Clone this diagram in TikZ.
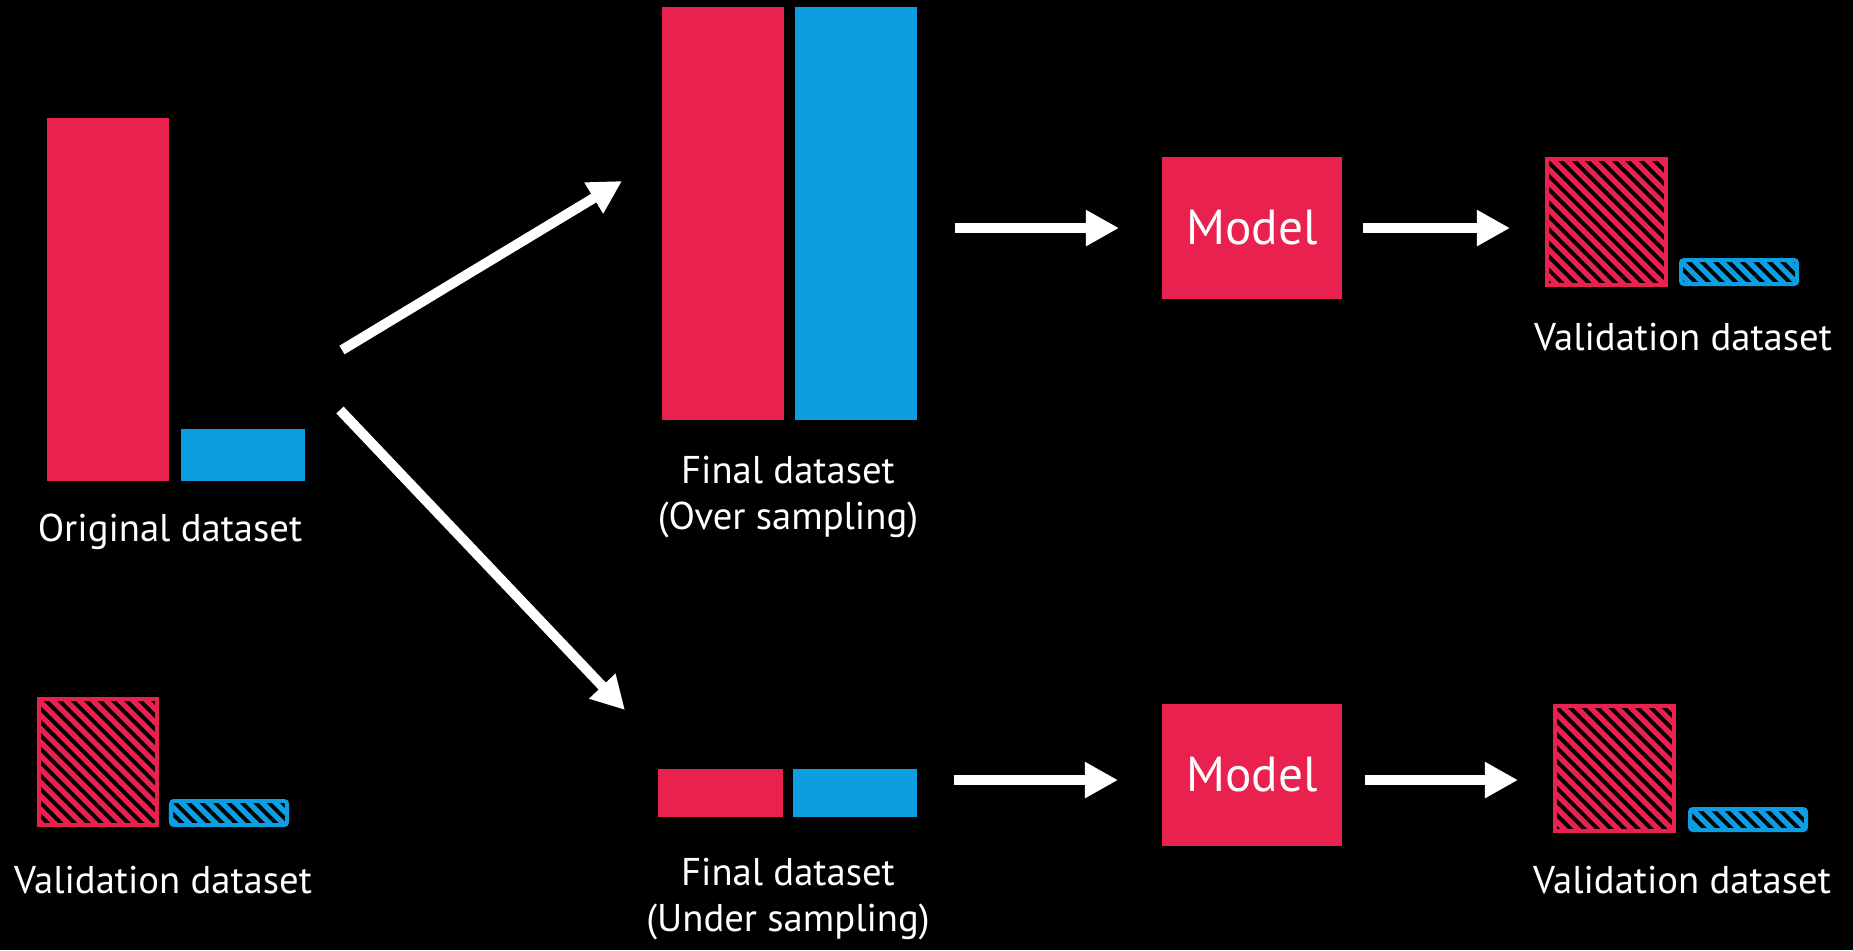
\documentclass[tikz,border=0pt]{standalone}
\usepackage{fontspec}
\setmainfont{PT Sans}
\usetikzlibrary{arrows.meta,patterns.meta,positioning}
\definecolor{barred}{HTML}{E8214E}
\definecolor{barblue}{HTML}{0C9EE0}
\tikzset{
  bar/.style={inner sep=0pt, outer sep=0pt, anchor=north west},
  redbar/.style={bar, fill=barred},
  bluebar/.style={bar, fill=barblue},
  hatched/.style={bar, line width=0.04cm, preaction={fill=#1}, draw=#1,
    pattern={Lines[angle=-45,distance=2.7pt,line width=1.1pt]}, pattern color=black},
  flow/.style={white, line width=0.1cm, -{Triangle[length=0.33cm,width=0.34cm]}},
  lbl/.style={text=white, font=\fontsize{11}{13.3}\selectfont, align=center, inner sep=0pt},
  modelbox/.style={redbar, minimum width=1.80cm, minimum height=1.42cm,
    text=white, font=\fontsize{14}{16}\selectfont},
}
\begin{document}
\begin{tikzpicture}[x=0.01cm, y=-0.01cm]
  \fill[black] (0,0) rectangle (1853,950);
  \useasboundingbox (0,0) rectangle (1853,950);

  % original data
  \node[redbar, minimum width=1.22cm, minimum height=3.63cm] (origred) at (47,118) {};
  \node[bluebar, minimum width=1.24cm, minimum height=0.52cm] (origblue) at (181,429) {};
  \node[lbl] (origlbl) at (170,532) {Original dataset};

  % held-out data, left
  \node[hatched=barred, minimum width=1.18cm, minimum height=1.26cm] (valred) at (39,699) {};
  \node[hatched=barblue, rounded corners=0.03cm, minimum width=1.16cm, minimum height=0.24cm] (valblue) at (171,801) {};
  \node[lbl] (vallbl) at (163,880) {Validation dataset};

  % over sampling
  \node[redbar, minimum width=1.22cm, minimum height=4.13cm] (overred) at (662,7) {};
  \node[bluebar, minimum width=1.22cm, minimum height=4.13cm] (overblue) at (795,7) {};
  \node[lbl] (overlbl) at (788,497) {Final dataset\\(Over sampling)};

  % under sampling
  \node[redbar, minimum width=1.25cm, minimum height=0.48cm] (underred) at (658,769) {};
  \node[bluebar, minimum width=1.24cm, minimum height=0.48cm] (underblue) at (793,769) {};
  \node[lbl] (underlbl) at (788,899) {Final dataset\\(Under sampling)};

  % models
  \node[modelbox] (modelup) at (1162,157) {Model};
  \node[modelbox] (modeldown) at (1162,704) {Model};

  % held-out data, right
  \node[hatched=barred, minimum width=1.19cm, minimum height=1.26cm] (valupred) at (1547,159) {};
  \node[hatched=barblue, rounded corners=0.03cm, minimum width=1.16cm, minimum height=0.24cm] (valupblue) at (1681,260) {};
  \node[lbl] (valuplbl) at (1683,337) {Validation dataset};
  \node[hatched=barred, minimum width=1.19cm, minimum height=1.25cm] (valdownred) at (1555,706) {};
  \node[hatched=barblue, rounded corners=0.03cm, minimum width=1.16cm, minimum height=0.21cm] (valdownblue) at (1690,809) {};
  \node[lbl] (valdownlbl) at (1682,880) {Validation dataset};

  \coordinate (forkup) at (342,350);
  \coordinate (tipup) at (622,181);
  \coordinate (forkdown) at (340,410);
  \coordinate (tipdown) at (625,710);

  \begin{scope}[flow]
    \draw (forkup) to (tipup);
    \draw (forkdown) to (tipdown);
    \draw[shorten <=0.38cm, shorten >=0.43cm] (overblue.east |- modelup.west) to (modelup.west);
    \draw[shorten <=0.21cm, shorten >=0.37cm] (modelup.east) to (valupred.west |- modelup.east);
    \draw[shorten <=0.37cm, shorten >=0.44cm] ([yshift=-0.05cm]underblue.east |- modeldown.west) to ([yshift=-0.05cm]modeldown.west);
    \draw[shorten <=0.23cm, shorten >=0.37cm] ([yshift=-0.05cm]modeldown.east) to ([yshift=-0.05cm]valdownred.west |- modeldown.east);
  \end{scope}
\end{tikzpicture}
\end{document}
